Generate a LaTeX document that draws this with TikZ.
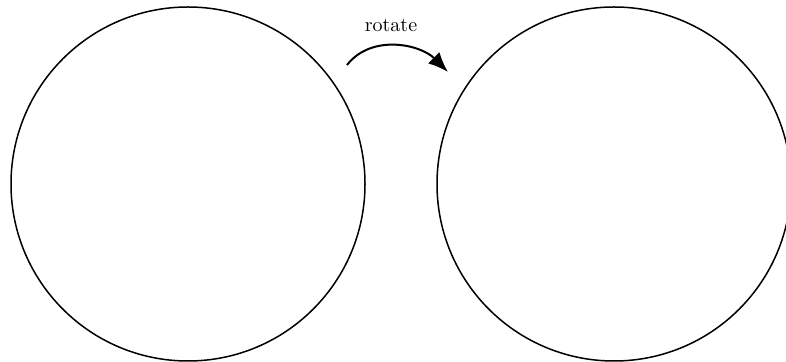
\documentclass[tikz,border=0pt]{standalone}
\usepackage{tikz}
\usetikzlibrary{arrows.meta,positioning}

\begin{document}
\begin{tikzpicture}[x=0.5pt, y=-0.5pt,
    ball/.style={draw=black, circle, line width=0.75pt, minimum size=177pt, inner sep=0pt},
    turn/.style={-{Latex[length=10pt,width=8pt]}, line width=1pt}]
        \useasboundingbox (0,0) rectangle (786,362);
        % the two circles
        \node[ball] (before) at (188,184) {};
        \node[ball] (after) at (614,184) {};
        % the rotation arrow
        \coordinate (turnfrom) at (347,65);
        \coordinate (turnto) at (448,72);
        \draw[turn] (turnfrom) to[out=52, in=135] (turnto);
        \node (turnlabel) at (391,25) {rotate};
      \end{tikzpicture}
\end{document}
